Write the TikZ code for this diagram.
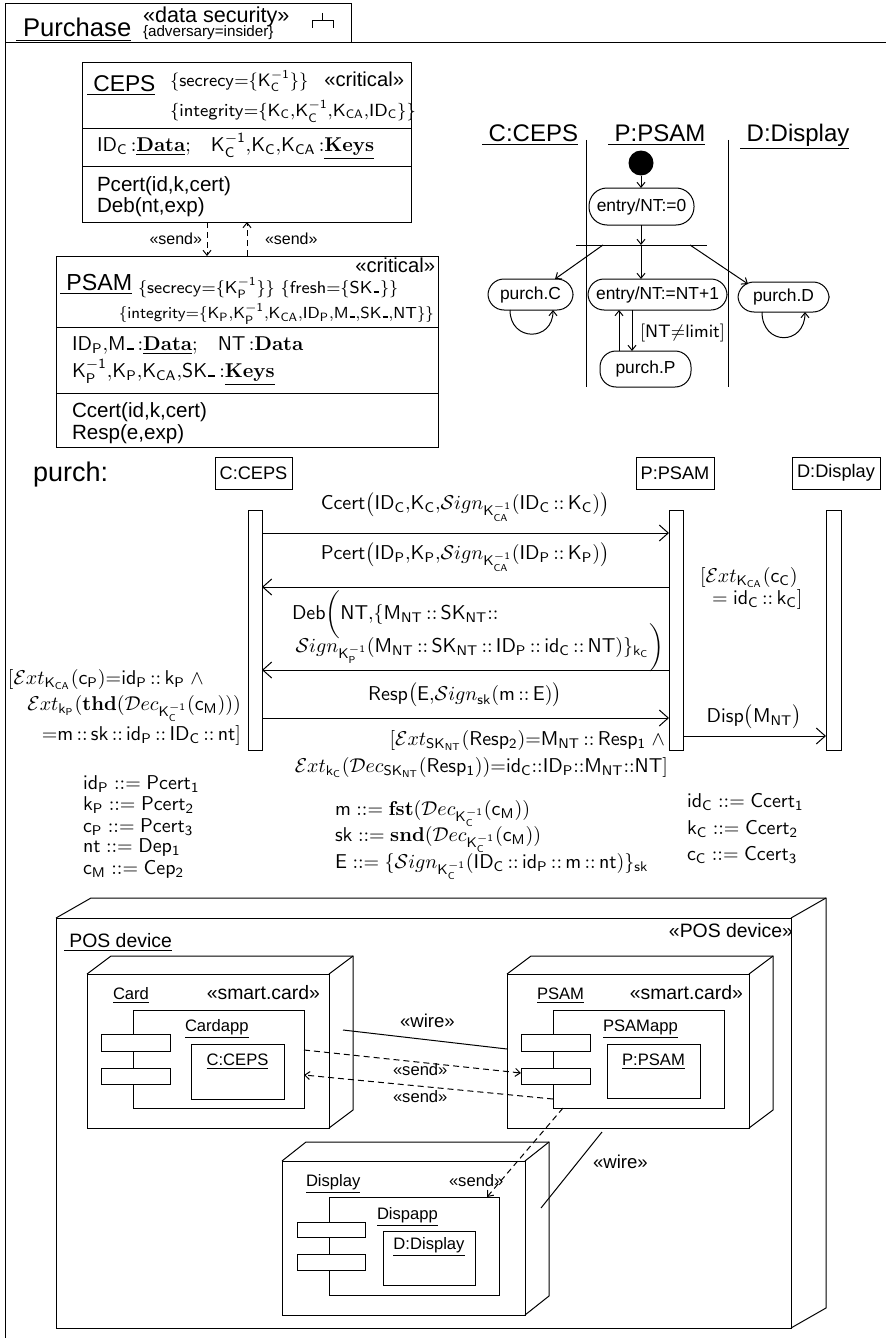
\RequirePackage{fix-cm}
\documentclass[tikz,border=0pt]{standalone}
\usepackage[no-math]{fontspec}
\newfontfamily\hv{Liberation Sans}
\usetikzlibrary{arrows.meta,calc,fit}
\newcommand\dc{\mskip3mu{:}{:}\mskip3mu}
\newcommand\defeq{\mathrel{{:}{:}{=}}}
\newcommand\Sgn{\mathcal{S}\mathnormal{ign}}
\newcommand\Ext{\mathcal{E}\mathnormal{xt}}
\newcommand\Dc{\mathcal{D}\mathnormal{ec}}
\newcommand\us{\mbox{\kern0.06em\rule{0.34em}{0.13em}\kern0.04em}}
\newcommand\setfs[1]{\fontsize{#1}{#1}\selectfont}
\newcommand\dcube[4]{%
  \node[box, fit={(#2) (#3)}] (#1) {};
  \draw (#1.north west) -- ++(#4) -- ($(#1.north east)+(#4)$) -- ($(#1.south east)+(#4)$) -- (#1.south east);
  \draw (#1.north east) -- ++(#4);
}
\tikzset{
  box/.style={draw, inner sep=0pt},
  st/.style={draw, rounded corners=8pt, inner sep=0pt},
  stt/.style={font=\hv\setfs{8.7}},
  tx/.style={font=\hv\setfs{#1}},
  mx/.style={font=\setfs{#1}},
  sarr/.style={-{Straight Barb[length=2.5pt,width=4pt]}},
  barr/.style={-{Straight Barb[length=4.5pt,width=8pt]}},
  dsh/.style={dash pattern=on 3pt off 2pt},
}
\begin{document}
\begin{tikzpicture}[x=0.5pt,y=-0.5pt, line width=0.5pt, every node/.style={inner sep=0pt,outer sep=0pt}]
\useasboundingbox (0,0) rectangle (886,1338);
% frame
\draw (5,4) rectangle (351,43);
\draw (5,43) -- (886,43);
\draw (5,43) -- (5,1338);
\node[tx=12.8, anchor=base west] (title) at (16,37) {\underline{\ Purchase}};
\node[tx=10.8, anchor=base west] (ster) at (143,23) {«data security»};
\node[tx=7.6, anchor=base west] (adv) at (143,37) {\{adversary=insider\}};
\draw (322,13) -- (322,21);
\draw (312,28) -- (312,21) -- (333,21) -- (333,28);

% CEPS class
\node[box, fit={(82,63) (411,222)}] (ceps) {};
\draw (ceps.west |- 0,129) -- (ceps.east |- 0,129);
\draw (ceps.west |- 0,166) -- (ceps.east |- 0,166);
\node[tx=11.4, anchor=base west] (cepsn) at (87,91) {\underline{\ CEPS}};
\node[mx=9, anchor=mid west] (cepssec) at (170,82) {$\mathsf{\{secrecy{=}\{K_C^{-1}\}\}}$};
\node[tx=10.1, anchor=mid east] (cepscrit) at (404,82) {«critical»};
\node[mx=8.8, anchor=mid west] (cepsint) at (170,112) {$\mathsf{\{integrity{=}\{K_C{,}K_C^{-1}{,}K_{CA}{,}ID_C\}\}}$};
\node[mx=10, anchor=mid west] (cepsatt) at (97,147) {$\mathsf{ID_C}\,{:}\underline{\mathbf{Data}}$;\quad $\mathsf{K_C^{-1}{,}K_C{,}K_{CA}}\,{:}\underline{\mathbf{Keys}}$};
\node[tx=10.3, anchor=mid west] (cepsm1) at (97,187) {Pcert(id,k,cert)};
\node[tx=10.3, anchor=mid west] (cepsm2) at (97,208) {Deb(nt,exp)};

% PSAM class
\node[box, fit={(56,256) (438,447)}] (psam) {};
\draw (psam.west |- 0,327) -- (psam.east |- 0,327);
\draw (psam.west |- 0,393) -- (psam.east |- 0,393);
\node[tx=11.6, anchor=base west] (psamn) at (60,290) {\underline{\ PSAM}};
\node[tx=10.1, anchor=mid east] (psamcrit) at (435,268) {«critical»};
\node[mx=8.6, anchor=mid west] (psamsec) at (138,289) {$\mathsf{\{secrecy{=}\{K_P^{-1}\}\}\ \{fresh{=}\{SK\us\}\}}$};
\node[mx=8, anchor=mid east] (psamint) at (434,314) {$\mathsf{\{integrity{=}\{K_P{,}K_P^{-1}{,}K_{CA}{,}ID_P{,}M\us{,}SK\us{,}NT\}\}}$};
\node[mx=10, anchor=mid west] (psamatt1) at (72,346) {$\mathsf{ID_P{,}M\us}\,{:}\underline{\mathbf{Data}}$;\quad $\mathsf{NT}\,{:}\mathbf{Data}$};
\node[mx=10, anchor=mid west] (psamatt2) at (72,373) {$\mathsf{K_P^{-1}{,}K_P{,}K_{CA}{,}SK\us}\,{:}\underline{\mathbf{Keys}}$};
\node[tx=10.3, anchor=mid west] (psamm1) at (72,413) {Ccert(id,k,cert)};
\node[tx=10.3, anchor=mid west] (psamm2) at (72,435) {Resp(e,exp)};
\draw[dsh, sarr] (207,0 |- ceps.south) -- (207,0 |- psam.north);
\draw[dsh, sarr] (247,0 |- psam.north) -- (247,0 |- ceps.south);
\node[tx=8, anchor=mid east] (snd1) at (202,240) {«send»};
\node[tx=8, anchor=mid west] (snd2) at (265,240) {«send»};

% state machine
\node[tx=12, anchor=base west] (hC) at (482,141) {\underline{\ C:CEPS}};
\node[tx=12, anchor=base west] (hP) at (608,141) {\underline{\ P:PSAM}};
\node[tx=12, anchor=base west] (hD) at (740,141) {\underline{\ D:Display}};
\draw (586,140) -- (586,387);
\draw (728,140) -- (728,387);
\node[circle, fill, minimum size=12.5pt] (init) at (641,163) {};
\node[st, rounded corners=9pt, fit={(589,188) (694,225)}] (e0) {};
\node[stt] (e0t) at (e0.center) {entry/NT:=0};
\coordinate (bar) at (641,245);
\coordinate (fC) at (603,245);
\coordinate (fD) at (690,245);
\draw (576,245) -- (707,245);
\node[st, fit={(488,279) (573,310)}] (pC) {};
\node[stt] (pCt) at (pC.center) {purch.C};
\node[st, fit={(588,279) (727,310)}] (pE) {};
\node[stt] (pEt) at (pE.center) {entry/NT:=NT+1};
\node[st, fit={(738,282) (829,312)}] (pD) {};
\node[stt] (pDt) at (pD.center) {purch.D};
\node[st, fit={(600,351) (691,387)}] (pP) {};
\node[stt] (pPt) at (pP.center) {purch.P};
\draw[sarr] (init) -- (init |- e0.north);
\draw[sarr] (e0.south -| bar) -- (bar);
\draw[sarr] (bar) -- (bar |- pE.north);
\draw[sarr] (fC) -- (pC.north -| 555,0);
\draw[sarr] (fD) -- (748,284);
\draw[sarr] (pC.south -| 510,0) .. controls +(0,32) and +(0,32) .. (pC.south -| 553,0);
\draw[sarr] (pD.south -| 762,0) .. controls +(0,34) and +(0,34) .. (pD.south -| 805,0);
\draw[sarr] (pE.south -| 632,0) -- (pP.north -| 632,0);
\draw[sarr] (pP.north -| 619,0) -- (pE.south -| 619,0);
\node[mx=9, anchor=mid west] (guard) at (640,333) {$[\mathsf{NT}{\neq}\mathsf{limit}]$};

% sequence diagram
\node[tx=13.5, anchor=base west] (purch) at (33,481) {purch:};
\node[box, fit={(215,457) (292,489)}] (sC) {};
\node[tx=9.1] (sCt) at (sC.center) {C:CEPS};
\node[box, fit={(636,457) (714,489)}] (sP) {};
\node[tx=9.1] (sPt) at (sP.center) {P:PSAM};
\node[box, fit={(792,457) (880,489)}] (sD) {};
\node[tx=9.1] (sDt) at (sD.center) {D:Display};
\node[box, fit={(248,510) (262,750)}] (bC) {};
\node[box, fit={(669,510) (683,750)}] (bP) {};
\node[box, fit={(826,510) (841,750)}] (bD) {};
\node[mx=10] (m1) at (465,507) {$\mathsf{Ccert\bigl(ID_C{,}K_C{,}\Sgn_{K_{CA}^{-1}}(ID_C\dc K_C)\bigr)}$};
\draw[barr] (bC.east |- 0,533) -- (bP.west |- 0,533);
\node[mx=10] (m2) at (465,557) {$\mathsf{Pcert\bigl(ID_P{,}K_P{,}\Sgn_{K_{CA}^{-1}}(ID_P\dc K_P)\bigr)}$};
\draw[barr] (bP.west |- 0,587) -- (bC.east |- 0,587);
\node[mx=10, anchor=mid west] (m3a) at (292,615) {$\mathsf{Deb}\biggl(\mathsf{NT{,}\{M_{NT}\dc SK_{NT}{::}}$};
\node[mx=10, anchor=mid east] (m3b) at (664,648) {$\mathsf{\Sgn_{K_P^{-1}}(M_{NT}\dc SK_{NT}\dc ID_P\dc id_C\dc NT)\}_{k_C}}\biggr)$};
\draw[barr] (bP.west |- 0,670) -- (bC.east |- 0,670);
\node[mx=10] (m4) at (465,695) {$\mathsf{Resp\bigl(E{,}\Sgn_{sk}(m\dc E)\bigr)}$};
\draw[barr] (bC.east |- 0,718) -- (bP.west |- 0,718);
\node[mx=10] (m5) at (754,717) {$\mathsf{Disp\bigl(M_{NT}\bigr)}$};
\draw[barr] (bP.east |- 0,736) -- (bD.west |- 0,736);
\node[mx=10, anchor=mid west] (cP1) at (700,578) {$\mathsf{[\Ext_{K_{CA}}(c_C)}$};
\node[mx=10, anchor=mid west] (cP2) at (712,600) {$\mathsf{{=}\;id_C\dc k_C]}$};
\node[mx=10, anchor=mid west] (cC1) at (8,680) {$\mathsf{[\Ext_{K_{CA}}(c_P){=}id_P\dc k_P\;{\wedge}}$};
\node[mx=10, anchor=mid east] (cC2) at (241,706) {$\mathsf{\Ext_{k_P}(\mathbf{thd}(\Dc_{K_C^{-1}}(c_M)))}$};
\node[mx=10, anchor=mid east] (cC3) at (241,736) {$\mathsf{{=}m\dc sk\dc id_P\dc ID_C\dc nt]}$};
\node[mx=10, anchor=mid east] (cR1) at (665,741) {$\mathsf{[\Ext_{SK_{NT}}(Resp_2){=}M_{NT}\dc Resp_1\;{\wedge}}$};
\node[mx=10, anchor=mid east] (cR2) at (668,768) {$\mathsf{\Ext_{k_C}(\Dc_{SK_{NT}}(Resp_1)){=}id_C{::}ID_P{::}M_{NT}{::}NT]}$};
\node[mx=10, anchor=mid west] (f1) at (83,785) {$\mathsf{id_P\defeq Pcert_1}$};
\node[mx=10, anchor=mid west] (f2) at (83,806) {$\mathsf{k_P\defeq Pcert_2}$};
\node[mx=10, anchor=mid west] (f3) at (83,828) {$\mathsf{c_P\defeq Pcert_3}$};
\node[mx=10, anchor=mid west] (f4) at (83,848) {$\mathsf{nt\defeq Dep_1}$};
\node[mx=10, anchor=mid west] (f5) at (83,870) {$\mathsf{c_M\defeq Cep_2}$};
\node[mx=10, anchor=mid west] (g1) at (335,811) {$\mathsf{m\defeq\mathbf{fst}(\Dc_{K_C^{-1}}(c_M))}$};
\node[mx=10, anchor=mid west] (g2) at (335,837) {$\mathsf{sk\defeq\mathbf{snd}(\Dc_{K_C^{-1}}(c_M))}$};
\node[mx=10, anchor=mid west] (g3) at (335,864) {$\mathsf{E\defeq\{\Sgn_{K_C^{-1}}(ID_C\dc id_P\dc m\dc nt)\}_{sk}}$};
\node[mx=10, anchor=mid west] (h1) at (687,803) {$\mathsf{id_C\defeq Ccert_1}$};
\node[mx=10, anchor=mid west] (h2) at (687,830) {$\mathsf{k_C\defeq Ccert_2}$};
\node[mx=10, anchor=mid west] (h3) at (687,856) {$\mathsf{c_C\defeq Ccert_3}$};

% deployment
\dcube{pos}{56,918}{791,1328}{35,-20}
\node[tx=9.7, anchor=base west] (posl) at (64,947) {\underline{\ POS device}};
\node[tx=9.7, anchor=mid east] (poss) at (793,933) {«POS device»};
\dcube{card}{87,974}{329,1128}{24,-18}
\dcube{pdev}{507,974}{749,1128}{24,-18}
\dcube{ddev}{282,1161}{525,1315}{24,-19}
\node[box, fit={(133,1010) (304,1108)}] (cardapp) {};
\node[box, fill=white, fit={(101,1034) (170,1051)}] (ct1) {};
\node[box, fill=white, fit={(101,1068) (170,1084)}] (ct2) {};
\node[box, fit={(191,1044) (284,1099)}] (cobj) {};
\node[box, fit={(553,1010) (724,1108)}] (psamapp) {};
\node[box, fill=white, fit={(521,1034) (590,1051)}] (pt1) {};
\node[box, fill=white, fit={(521,1068) (590,1084)}] (pt2) {};
\node[box, fit={(607,1044) (700,1098)}] (pobj) {};
\node[box, fit={(329,1197) (499,1295)}] (dispapp) {};
\node[box, fill=white, fit={(297,1222) (365,1237)}] (dt1) {};
\node[box, fill=white, fit={(297,1254) (365,1270)}] (dt2) {};
\node[box, fit={(383,1231) (475,1285)}] (dobj) {};
\node[tx=8.3, anchor=mid west] (cardl) at (113,995) {\underline{Card}};
\node[tx=9.7, anchor=mid east] (cards) at (320,995) {«smart.card»};
\node[tx=8.3, anchor=mid west] (cardal) at (185,1027) {\underline{Cardapp}};
\node[tx=8.3] (cobjl) at (237.5,1062) {\underline{C:CEPS}};
\node[tx=8.3, anchor=mid west] (pdevl) at (537,995) {\underline{PSAM}};
\node[tx=9.7, anchor=mid east] (pdevs) at (743,995) {«smart.card»};
\node[tx=8.3, anchor=mid west] (psamal) at (603,1027) {\underline{PSAMapp}};
\node[tx=8.3] (pobjl) at (653.5,1062) {\underline{P:PSAM}};
\node[tx=8.3, anchor=mid west] (ddevl) at (306,1182) {\underline{Display}};
\node[tx=8.3, anchor=mid west] (ddevs) at (449,1182) {«send»};
\node[tx=8.3, anchor=mid west] (dispal) at (377,1215) {\underline{Dispapp}};
\node[tx=8.3] (dobjl) at (429,1247) {\underline{D:Display}};
\coordinate (w1a) at (343,1030);
\draw (w1a) -- (pdev.west |- 0,1049);
\node[tx=9.3, anchor=mid west] (w1l) at (400,1023) {«wire»};
\draw[dsh, sarr] (cardapp.east |- 0,1050) -- (pt2.west |- 0,1073);
\draw[dsh, sarr] (psamapp.west |- 0,1099) -- (cardapp.east |- 0,1075);
\node[tx=8.3, anchor=mid west] (s1l) at (393,1071) {«send»};
\node[tx=8.3, anchor=mid west] (s2l) at (393,1098) {«send»};
\draw[dsh, sarr] (psamapp.south -| 563,0) -- (dispapp.north -| 487,0);
\coordinate (w2a) at (602,1132);
\coordinate (w2b) at (541,1208);
\draw (w2a) -- (w2b);
\node[tx=9.3, anchor=mid west] (w2l) at (593,1164) {«wire»};
\end{tikzpicture}
\end{document}
